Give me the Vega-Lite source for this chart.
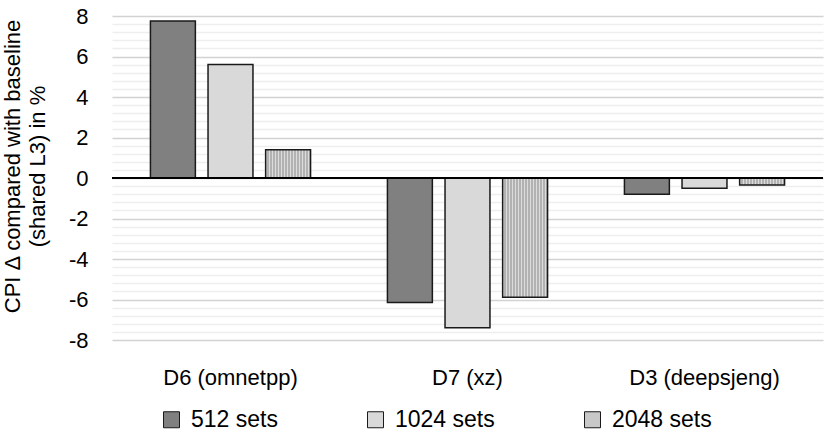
{
  "$schema": "https://vega.github.io/schema/vega-lite/v6.json",
  "width": 711,
  "height": 324,
  "autosize": "none",
  "padding": {"left": 112, "top": 16, "right": 8, "bottom": 98},
  "background": "white",
  "config": {"font": "Liberation Sans", "view": {"stroke": null}},
  "data": {
    "values": [
      {"bench": "D6 (omnetpp)", "sets": "512 sets", "cpi": 7.75},
      {"bench": "D6 (omnetpp)", "sets": "1024 sets", "cpi": 5.6},
      {"bench": "D6 (omnetpp)", "sets": "2048 sets", "cpi": 1.4},
      {"bench": "D7 (xz)", "sets": "512 sets", "cpi": -6.15},
      {"bench": "D7 (xz)", "sets": "1024 sets", "cpi": -7.39},
      {"bench": "D7 (xz)", "sets": "2048 sets", "cpi": -5.89},
      {"bench": "D3 (deepsjeng)", "sets": "512 sets", "cpi": -0.8},
      {"bench": "D3 (deepsjeng)", "sets": "1024 sets", "cpi": -0.51},
      {"bench": "D3 (deepsjeng)", "sets": "2048 sets", "cpi": -0.35}
    ]
  },
  "layer": [
    {
      "mark": {"type": "bar", "stroke": "#1a1a1a", "strokeWidth": 1.5},
      "encoding": {
        "x": {
          "field": "bench",
          "type": "nominal",
          "sort": ["D6 (omnetpp)", "D7 (xz)", "D3 (deepsjeng)"],
          "scale": {"paddingInner": 0.3, "paddingOuter": 0.15},
          "axis": {
            "title": null,
            "labelAngle": 0,
            "domain": false,
            "ticks": false,
            "labelFontSize": 22,
            "labelPadding": 27,
            "labelColor": "#000"
          }
        },
        "xOffset": {
          "field": "sets",
          "sort": ["512 sets", "1024 sets", "2048 sets"],
          "scale": {"paddingInner": 0.22, "paddingOuter": 0.05}
        },
        "y": {
          "field": "cpi",
          "type": "quantitative",
          "scale": {"domain": [-8, 8], "nice": false},
          "axis": {
            "title": ["CPI Δ compared with baseline", "(shared L3) in %"],
            "titleFontSize": 22,
            "titleFontWeight": "normal",
            "titleColor": "#000",
            "titleLineHeight": 25,
            "titleX": -88,
            "titleY": 150,
            "titleBaseline": "bottom",
            "tickCount": 41,
            "values": [-8, -7.6, -7.2, -6.8, -6.4, -6, -5.6, -5.2, -4.8, -4.4, -4, -3.6, -3.2, -2.8, -2.4, -2, -1.6, -1.2, -0.8, -0.4, 0, 0.4, 0.8, 1.2, 1.6, 2, 2.4, 2.8, 3.2, 3.6, 4, 4.4, 4.8, 5.2, 5.6, 6, 6.4, 6.8, 7.2, 7.6, 8],
            "labelExpr": "datum.value % 2 === 0 ? '' + datum.value : ''",
            "labelOverlap": false,
            "labelFlush": false,
            "labelFontSize": 22,
            "labelPadding": 24,
            "labelColor": "#000",
            "ticks": false,
            "domain": false,
            "gridColor": {"condition": {"test": "datum.value % 2 === 0", "value": "#d2d2d2"}, "value": "#eeeeee"},
            "gridWidth": {"condition": {"test": "datum.value % 2 === 0", "value": 1.6}, "value": 1.3}
          }
        },
        "fill": {
          "field": "sets",
          "type": "nominal",
          "condition": {
            "test": "datum.sets === '2048 sets'",
            "value": {
              "gradient": "linear",
              "x1": 0, "y1": 0, "x2": 1, "y2": 0,
              "stops": [
                {"offset": 0, "color": "#dcdcdc"}, {"offset": 0.0333, "color": "#dcdcdc"},
                {"offset": 0.0333, "color": "#b2b2b2"}, {"offset": 0.0667, "color": "#b2b2b2"},
                {"offset": 0.0667, "color": "#dcdcdc"}, {"offset": 0.1, "color": "#dcdcdc"},
                {"offset": 0.1, "color": "#b2b2b2"}, {"offset": 0.1333, "color": "#b2b2b2"},
                {"offset": 0.1333, "color": "#dcdcdc"}, {"offset": 0.1667, "color": "#dcdcdc"},
                {"offset": 0.1667, "color": "#b2b2b2"}, {"offset": 0.2, "color": "#b2b2b2"},
                {"offset": 0.2, "color": "#dcdcdc"}, {"offset": 0.2333, "color": "#dcdcdc"},
                {"offset": 0.2333, "color": "#b2b2b2"}, {"offset": 0.2667, "color": "#b2b2b2"},
                {"offset": 0.2667, "color": "#dcdcdc"}, {"offset": 0.3, "color": "#dcdcdc"},
                {"offset": 0.3, "color": "#b2b2b2"}, {"offset": 0.3333, "color": "#b2b2b2"},
                {"offset": 0.3333, "color": "#dcdcdc"}, {"offset": 0.3667, "color": "#dcdcdc"},
                {"offset": 0.3667, "color": "#b2b2b2"}, {"offset": 0.4, "color": "#b2b2b2"},
                {"offset": 0.4, "color": "#dcdcdc"}, {"offset": 0.4333, "color": "#dcdcdc"},
                {"offset": 0.4333, "color": "#b2b2b2"}, {"offset": 0.4667, "color": "#b2b2b2"},
                {"offset": 0.4667, "color": "#dcdcdc"}, {"offset": 0.5, "color": "#dcdcdc"},
                {"offset": 0.5, "color": "#b2b2b2"}, {"offset": 0.5333, "color": "#b2b2b2"},
                {"offset": 0.5333, "color": "#dcdcdc"}, {"offset": 0.5667, "color": "#dcdcdc"},
                {"offset": 0.5667, "color": "#b2b2b2"}, {"offset": 0.6, "color": "#b2b2b2"},
                {"offset": 0.6, "color": "#dcdcdc"}, {"offset": 0.6333, "color": "#dcdcdc"},
                {"offset": 0.6333, "color": "#b2b2b2"}, {"offset": 0.6667, "color": "#b2b2b2"},
                {"offset": 0.6667, "color": "#dcdcdc"}, {"offset": 0.7, "color": "#dcdcdc"},
                {"offset": 0.7, "color": "#b2b2b2"}, {"offset": 0.7333, "color": "#b2b2b2"},
                {"offset": 0.7333, "color": "#dcdcdc"}, {"offset": 0.7667, "color": "#dcdcdc"},
                {"offset": 0.7667, "color": "#b2b2b2"}, {"offset": 0.8, "color": "#b2b2b2"},
                {"offset": 0.8, "color": "#dcdcdc"}, {"offset": 0.8333, "color": "#dcdcdc"},
                {"offset": 0.8333, "color": "#b2b2b2"}, {"offset": 0.8667, "color": "#b2b2b2"},
                {"offset": 0.8667, "color": "#dcdcdc"}, {"offset": 0.9, "color": "#dcdcdc"},
                {"offset": 0.9, "color": "#b2b2b2"}, {"offset": 0.9333, "color": "#b2b2b2"},
                {"offset": 0.9333, "color": "#dcdcdc"}, {"offset": 0.9667, "color": "#dcdcdc"},
                {"offset": 0.9667, "color": "#b2b2b2"}, {"offset": 1, "color": "#b2b2b2"}
              ]
            }
          },
          "scale": {
            "domain": ["512 sets", "1024 sets", "2048 sets"],
            "range": ["#808080", "#d9d9d9", "#c8c8c8"]
          },
          "legend": {
            "title": null,
            "orient": "none",
            "legendX": 48,
            "legendY": 392,
            "direction": "horizontal",
            "padding": 0,
            "symbolType": "square",
            "symbolSize": 256,
            "symbolStrokeColor": "#1a1a1a",
            "symbolStrokeWidth": 1,
            "labelFontSize": 23,
            "labelOffset": 8,
            "labelColor": "#000",
            "columnPadding": 86
          }
        }
      }
    },
    {
      "mark": {"type": "rule", "color": "#000", "strokeWidth": 1.5},
      "encoding": {"y": {"datum": 0}}
    }
  ]
}
